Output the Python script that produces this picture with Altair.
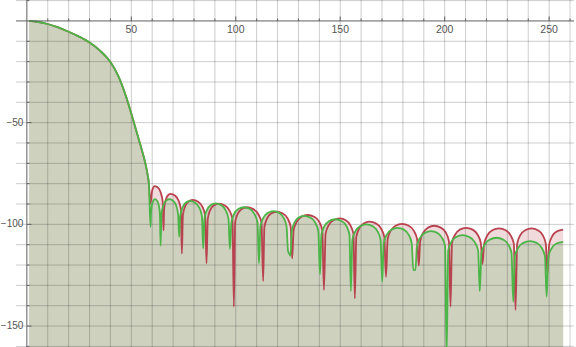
import altair as alt
import pandas as pd

# ---- data ----
main_x = [1, 5, 10, 15, 20, 25, 30, 35, 40, 44, 47.8, 50, 52, 54, 55, 56, 57, 57.8, 58.4]
main_y = [0, -0.4, -1.5, -3.2, -5.3, -7.7, -10.6, -14.6, -20.2, -27.6, -38.2, -45.6,
          -52.6, -59.7, -63.3, -67.0, -71.3, -75.5, -80.0]

red_x = [59.2, 59.8, 60.4, 61.2, 62.9, 64.1, 65.0, 65.4, 65.7, 66.4, 67.4, 68.8,
         71.0, 72.6, 73.7, 74.2, 74.7, 75.7, 77.3, 79.3, 82.0, 84.0, 85.3, 86.0,
         86.6, 87.7, 89.5, 91.8, 94.7, 96.9, 98.4, 99.1, 99.7, 100.9, 102.8, 105.2,
         108.4, 110.7, 112.3, 113.1, 113.7, 115.0, 116.9, 119.5, 122.5, 124.8, 126.3, 127.0,
         127.7, 129.2, 131.4, 134.4, 137.5, 139.9, 141.4, 142.2, 143.0, 144.5, 146.8, 149.8,
         152.7, 154.8, 156.3, 157.0, 157.7, 159.1, 161.2, 164.0, 167.2, 169.5, 171.1, 171.9,
         172.7, 174.2, 176.5, 179.6, 182.8, 185.2, 186.8, 187.6, 188.3, 189.8, 192.0, 195.0,
         198.1, 200.5, 202.0, 202.8, 203.5, 205.0, 207.2, 210.2, 213.4, 215.7, 217.3, 218.1,
         218.9, 220.5, 222.8, 226.0, 229.2, 231.5, 233.1, 233.9, 234.7, 236.2, 238.5, 241.6,
         244.6, 246.9, 248.4, 249.2, 250.0, 251.5, 253.8, 256.7]
red_y = [-90.0, -84.5, -82.1, -81.2, -82.1, -84.5, -88.7, -103.0, -92.5, -88.3, -85.9, -85.0,
         -85.9, -88.3, -92.5, -114.4, -95.5, -91.3, -88.9, -88.0, -88.9, -91.3, -95.5, -119.2,
         -97.3, -93.1, -90.7, -89.8, -90.7, -93.1, -97.3, -140.5, -99.1, -94.9, -92.5, -91.6,
         -92.5, -94.9, -99.1, -127.9, -101.3, -97.1, -94.7, -93.8, -94.7, -97.1, -101.3, -116.7,
         -102.9, -98.7, -96.3, -95.4, -96.3, -98.7, -102.9, -132.3, -104.6, -100.4, -98.0, -97.1,
         -98.0, -100.4, -104.6, -136.4, -106.2, -102.0, -99.6, -98.7, -99.6, -102.0, -106.2, -125.8,
         -107.3, -103.1, -100.7, -99.8, -100.7, -103.1, -107.3, -120.3, -108.2, -104.0, -101.6, -100.7,
         -101.6, -104.0, -108.2, -140.5, -109.2, -105.0, -102.6, -101.7, -102.6, -105.0, -109.2, -119.5,
         -109.5, -105.3, -102.9, -102.0, -102.9, -105.3, -109.5, -142.1, -109.5, -105.3, -102.9, -102.0,
         -102.9, -105.3, -109.5, -124.1, -110.0, -105.8, -103.4, -102.6]

green_x = [59.2, 59.4, 59.8, 60.5, 61.3, 62.4, 63.2, 63.7, 64.0, 64.4, 65.3, 66.5, 68.2,
           70.1, 71.5, 72.4, 72.9, 73.4, 74.5, 76.0, 78.1, 80.6, 82.5, 83.8, 84.4,
           85.0, 86.2, 87.9, 90.3, 93.1, 95.1, 96.5, 97.2, 97.9, 99.2, 101.2, 103.9,
           106.8, 108.9, 110.4, 111.1, 111.8, 113.2, 115.3, 118.1, 120.9, 122.9, 124.3, 125.0,
           125.6, 126.2, 126.8, 128.1, 130.0, 132.6, 135.7, 138.0, 139.5, 140.3, 141.0, 142.5,
           144.7, 147.6, 150.6, 152.9, 154.4, 155.1, 155.8, 157.3, 159.5, 162.5, 165.5, 167.8,
           169.3, 170.1, 170.8, 172.3, 174.5, 177.5, 180.5, 182.7, 184.2, 185.0, 186.0, 186.7,
           188.2, 190.5, 193.5, 196.5, 198.7, 200.2, 200.9, 201.7, 203.2, 205.5, 208.5, 211.8,
           214.3, 216.0, 216.8, 217.6, 219.2, 221.6, 224.8, 228.0, 230.4, 232.0, 232.8, 233.6,
           235.2, 237.6, 240.8, 244.0, 246.4, 248.0, 248.8, 249.6, 251.2, 253.5, 256.7]
green_y = [-101.2, -95.1, -90.9, -88.5, -87.6, -88.5, -90.9, -95.1, -110.5, -95.1, -90.9, -88.5, -87.6,
           -88.5, -90.9, -95.1, -106.1, -96.0, -91.8, -89.4, -88.5, -89.4, -91.8, -96.0, -111.8,
           -97.2, -93.0, -90.6, -89.7, -90.6, -93.0, -97.2, -112.1, -99.1, -94.9, -92.5, -91.6,
           -92.5, -94.9, -99.1, -119.2, -101.0, -96.8, -94.4, -93.5, -94.4, -96.8, -101.0, -113.0,
           -114.5, -115.5, -103.3, -99.1, -96.7, -95.8, -96.7, -99.1, -103.3, -124.6, -105.0, -100.8,
           -98.4, -97.5, -98.4, -100.8, -105.0, -132.8, -107.5, -103.3, -100.9, -100.0, -100.9, -103.3,
           -107.5, -128.2, -109.2, -105.0, -102.6, -101.7, -102.6, -105.0, -109.2, -122.5, -122.5, -110.8,
           -106.6, -104.2, -103.3, -104.2, -106.6, -110.8, -165.0, -112.8, -108.6, -106.2, -105.3, -106.2,
           -108.6, -112.8, -132.8, -114.1, -109.9, -107.5, -106.6, -107.5, -109.9, -114.1, -138.0, -115.7,
           -111.5, -109.1, -108.2, -109.1, -111.5, -115.7, -135.6, -116.0, -111.8, -109.4, -108.6]

x_ticks = [50, 100, 150, 200, 250]
y_ticks = [-50, -100, -150]

# ---- layout ----
X_MIN, X_MAX = -5.2, 261.9
Y_MIN, Y_MAX = -160.3, 10.3
W, H = 558, 347

xs = alt.Scale(domain=[X_MIN, X_MAX], nice=False, zero=False)
ys = alt.Scale(domain=[Y_MIN, Y_MAX], nice=False, zero=False)

red = pd.DataFrame({"x": main_x + red_x, "y": main_y + red_y})
red["base"] = Y_MIN
green = pd.DataFrame({"x": main_x + green_x, "y": main_y + green_y})
green["base"] = Y_MIN

RED, GREEN = "#b8434f", "#4cb548"
PINK, OLIVE = "#f1dadc", "#cfd1bf"
AXIS = "#5f5f5f"


def X(f="x"):
    return alt.X(f"{f}:Q", scale=xs, axis=None)


def Y(f="y"):
    return alt.Y(f"{f}:Q", scale=ys, axis=None)


def area(df, color):
    return alt.Chart(df).mark_area(color=color, interpolate="monotone", clip=True).encode(
        x=X(), y=Y(), y2="base:Q")


def line(df, color):
    return alt.Chart(df).mark_line(color=color, strokeWidth=1.8, interpolate="monotone",
                                   clip=True).encode(x=X(), y=Y())


vgrid = pd.DataFrame({"x": list(range(10, 261, 10))})
hgrid = pd.DataFrame({"y": [v for v in range(-160, 11, 10) if v != 0]})

vrules = alt.Chart(vgrid).mark_rule(color="black", opacity=0.2, strokeWidth=1).encode(
    x=X(), y=alt.value(0), y2=alt.value(H))
hrules = alt.Chart(hgrid).mark_rule(color="black", opacity=0.2, strokeWidth=1).encode(
    y=Y(), x=alt.value(0), x2=alt.value(W))

xaxis = alt.Chart(pd.DataFrame({"y": [0]})).mark_rule(color=AXIS, strokeWidth=1).encode(
    y=Y(), x=alt.value(0), x2=alt.value(W))
yaxis = alt.Chart(pd.DataFrame({"x": [0]})).mark_rule(color=AXIS, strokeWidth=1).encode(
    x=X(), y=alt.value(0), y2=alt.value(H))

minor_xv = [v for v in range(10, 261, 10) if v not in x_ticks]
minor_yv = [v for v in range(-160, 11, 10) if v != 0 and v not in y_ticks]
xt_df = pd.DataFrame({"x": minor_xv + x_ticks,
                      "y0": [0.0] * (len(minor_xv) + len(x_ticks)),
                      "y1": [1.2] * len(minor_xv) + [2.2] * len(x_ticks)})
yt_df = pd.DataFrame({"y": minor_yv + y_ticks,
                      "x0": [0.0] * (len(minor_yv) + len(y_ticks)),
                      "x1": [1.2] * len(minor_yv) + [2.2] * len(y_ticks)})

xticks = alt.Chart(xt_df).mark_rule(color=AXIS).encode(x=X(), y=Y("y0"), y2="y1:Q")
yticks = alt.Chart(yt_df).mark_rule(color=AXIS).encode(y=Y(), x=X("x0"), x2="x1:Q")

xlab_df = pd.DataFrame({"x": x_ticks, "y": [0] * len(x_ticks), "label": [str(v) for v in x_ticks]})
ylab_df = pd.DataFrame({"y": y_ticks, "x": [0] * len(y_ticks),
                        "label": ["\u2212" + str(-v) for v in y_ticks]})

xlabels = alt.Chart(xlab_df).mark_text(
    font="Liberation Sans", fontSize=10.5, color="#555555", align="center", baseline="middle", dy=9
).encode(x=X(), y=Y(), text="label:N")
ylabels = alt.Chart(ylab_df).mark_text(
    font="Liberation Sans", fontSize=10, color="#555555", align="right", baseline="middle", dx=-3.5
).encode(y=Y(), x=X(), text="label:N")

chart = alt.layer(
    area(red, PINK), area(green, OLIVE),
    vrules, hrules,
    line(red, RED), line(green, GREEN),
    xaxis, yaxis, xticks, yticks,
    xlabels, ylabels,
).properties(
    width=W, height=H,
    padding={"left": 16, "top": 0, "right": 2, "bottom": 0},
    autosize=alt.AutoSizeParams(type="none"),
    background="white",
).configure_view(stroke=None)

chart.save("out.html", embed_options={"renderer": "svg", "actions": False})
